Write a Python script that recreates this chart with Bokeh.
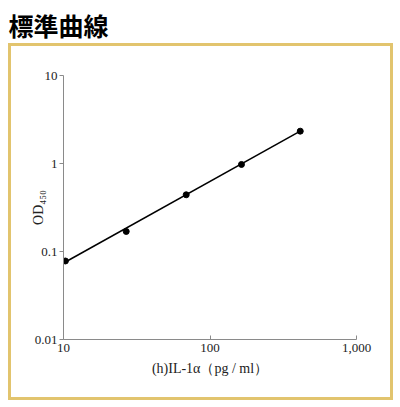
from bokeh.plotting import figure
from bokeh.layouts import column, row
from bokeh.models import (Range1d, FixedTicker, CustomJSTickFormatter, Label,
                          ColumnDataSource, Spacer)
from bokeh.embed import file_html
from bokeh.resources import INLINE

# data
conc = [10.3, 26.8, 68.8, 164, 413]          # (h)IL-1α pg/ml
od = [0.078, 0.169, 0.441, 0.975, 2.33]       # OD450
fit_x = [10.3, 413]
fit_y = [0.076, 2.33]
x_ticks = [10, 100, 1000]
y_ticks = [0.01, 0.1, 1, 10]
title_text = "標準曲線"
x_label = "(h)IL-1α（pg / ml）"
y_label = "OD₄₅₀"

SERIF = "Liberation Serif"
GOLD = "#E2C46E"
AX = "#8a8a8a"

# ---- title strip ----
tf = figure(width=393, height=43, title=None, x_axis_location=None, y_axis_location=None,
            x_range=Range1d(0, 393), y_range=Range1d(43, 0),
            output_backend="svg", toolbar_location=None, min_border=0)
tf.outline_line_color = None
tf.grid.visible = False
tf.add_layout(Label(x=8, y=6, text=title_text, text_font="Noto Sans CJK JP",
                    text_font_style="bold", text_font_size="25px",
                    text_baseline="top", text_color="black"))

# ---- chart ----
p = figure(width=385, height=357, x_axis_type="log", y_axis_type="log",
           x_range=Range1d(10, 1000), y_range=Range1d(0.01, 10),
           output_backend="svg", toolbar_location=None,
           min_border_left=55, min_border_right=37,
           min_border_top=32, min_border_bottom=61)
p.outline_line_color = None
p.grid.visible = False
p.border_fill_alpha = 0
p.background_fill_alpha = 0
p.styles = {"outline": f"3px solid {GOLD}", "outline-offset": "-3px",
            "box-shadow": f"inset 0 0 0 3px {GOLD}"}

for ax in (p.xaxis[0], p.yaxis[0]):
    ax.axis_line_color = AX
    ax.major_tick_line_color = AX
    ax.minor_tick_line_color = None
    ax.major_label_text_font = SERIF
    ax.major_label_text_font_size = "13px"
    ax.major_label_text_color = "#222222"
    ax.axis_label_text_font = SERIF
    ax.axis_label_text_font_style = "normal"
    ax.axis_label_text_font_size = "14px"
    ax.axis_label_text_color = "#222222"

p.xaxis.ticker = FixedTicker(ticks=x_ticks, minor_ticks=[])
p.yaxis.ticker = FixedTicker(ticks=y_ticks, minor_ticks=[])
p.xaxis.formatter = CustomJSTickFormatter(code="return tick.toLocaleString('en-US')")
p.yaxis.formatter = CustomJSTickFormatter(code="return String(tick)")
p.xaxis.major_tick_in = 4
p.xaxis.major_tick_out = 0
p.yaxis.major_tick_in = 0
p.yaxis.major_tick_out = 4
p.xaxis.major_label_standoff = 4
p.yaxis.major_label_standoff = 2
p.xaxis.axis_label = x_label
p.yaxis.axis_label = y_label
p.xaxis.axis_label_standoff = 6
p.yaxis.axis_label_standoff = -14

src = ColumnDataSource(dict(x=conc, y=od))
p.line(fit_x, fit_y, line_color="black", line_width=1.5)
p.scatter("x", "y", source=src, size=6, color="black")

layout = column(tf, row(Spacer(width=8, height=357), p))
open("out.html", "w").write(file_html(layout, INLINE))
